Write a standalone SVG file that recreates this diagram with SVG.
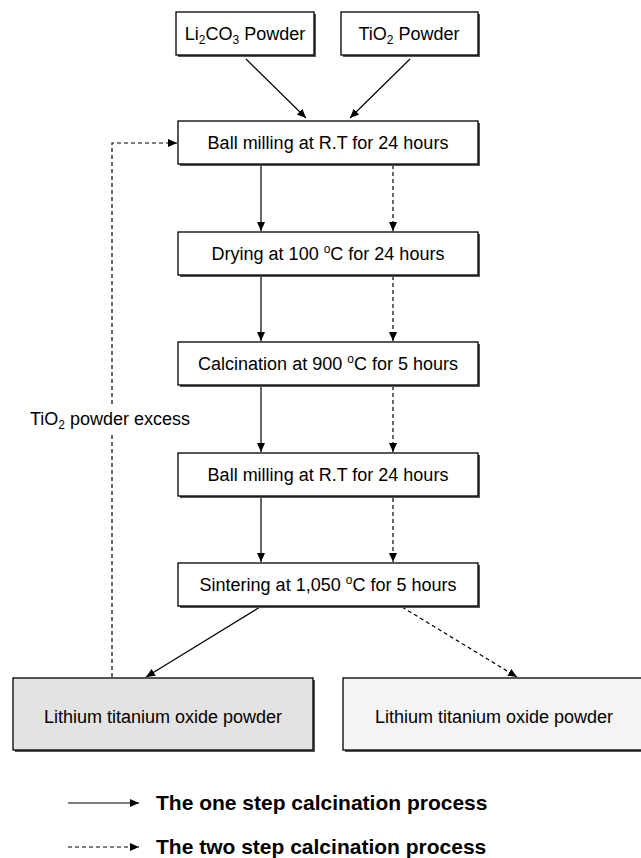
<svg xmlns="http://www.w3.org/2000/svg" width="641" height="858" viewBox="0 0 641 858">
<style>
.box{fill:#fff;stroke:#000;stroke-width:1.3}
.sh{fill:#555;stroke:none}
.t{font-family:"Liberation Sans",Arial,sans-serif;font-size:18px;fill:#000;text-anchor:middle}
.lg{font-family:"Liberation Sans",Arial,sans-serif;font-size:21px;font-weight:bold;fill:#000}
.s{font-size:12px}
.c{stroke:#000;stroke-width:1.2;fill:none}
.d{stroke-dasharray:4 3}
</style>
<defs>
<marker id="ah" markerWidth="10" markerHeight="10" refX="9" refY="5" orient="auto" markerUnits="userSpaceOnUse">
<path d="M0,1 L9,5 L0,9 Z" fill="#000"/>
</marker>
</defs>
<rect width="641" height="858" fill="#fff"/>
<g id="connectors">
<line class="c" x1="246" y1="59" x2="306" y2="118" marker-end="url(#ah)"/>
<line class="c" x1="410" y1="59" x2="350" y2="118" marker-end="url(#ah)"/>
<line class="c" x1="261" y1="165" x2="261" y2="231" marker-end="url(#ah)"/>
<line class="c d" x1="393" y1="165" x2="393" y2="231" marker-end="url(#ah)"/>
<line class="c" x1="261" y1="276" x2="261" y2="341" marker-end="url(#ah)"/>
<line class="c d" x1="393" y1="276" x2="393" y2="341" marker-end="url(#ah)"/>
<line class="c" x1="261" y1="386" x2="261" y2="452" marker-end="url(#ah)"/>
<line class="c d" x1="393" y1="386" x2="393" y2="452" marker-end="url(#ah)"/>
<line class="c" x1="261" y1="498" x2="261" y2="562" marker-end="url(#ah)"/>
<line class="c d" x1="393" y1="498" x2="393" y2="562" marker-end="url(#ah)"/>
<line class="c" x1="260" y1="607" x2="146" y2="677" marker-end="url(#ah)"/>
<line class="c d" x1="402" y1="607" x2="517" y2="677" marker-end="url(#ah)"/>
<polyline class="c d" points="112,677 112,143 177,143" marker-end="url(#ah)"/>
</g>
<g id="label-excess">
<rect x="24" y="404" width="172" height="28" fill="#fff"/>
<text class="t" x="110" y="425">TiO<tspan class="s" dy="4">2</tspan><tspan dy="-4"> powder excess</tspan></text>
</g>
<g id="n-li2co3">
<rect class="sh" x="178" y="14" width="138" height="43"/>
<rect class="box" x="176" y="12" width="138" height="43"/>
<text class="t" x="245" y="40">Li<tspan class="s" dy="4">2</tspan><tspan dy="-4">CO</tspan><tspan class="s" dy="4">3</tspan><tspan dy="-4"> Powder</tspan></text>
</g>
<g id="n-tio2">
<rect class="sh" x="343" y="14" width="137" height="43"/>
<rect class="box" x="341" y="12" width="137" height="43"/>
<text class="t" x="409" y="40">TiO<tspan class="s" dy="4">2</tspan><tspan dy="-4"> Powder</tspan></text>
</g>
<g id="n-ball1">
<rect class="sh" x="180" y="123" width="300" height="43"/>
<rect class="box" x="178" y="121" width="300" height="43"/>
<text class="t" x="328" y="149">Ball milling at R.T for 24 hours</text>
</g>
<g id="n-dry">
<rect class="sh" x="180" y="234" width="300" height="43"/>
<rect class="box" x="178" y="232" width="300" height="43"/>
<text class="t" x="328" y="260">Drying at 100 <tspan class="s" dy="-7">o</tspan><tspan dy="7">C for 24 hours</tspan></text>
</g>
<g id="n-calc">
<rect class="sh" x="180" y="344" width="300" height="43"/>
<rect class="box" x="178" y="342" width="300" height="43"/>
<text class="t" x="328" y="370">Calcination at 900 <tspan class="s" dy="-7">o</tspan><tspan dy="7">C for 5 hours</tspan></text>
</g>
<g id="n-ball2">
<rect class="sh" x="180" y="455" width="300" height="43"/>
<rect class="box" x="178" y="453" width="300" height="43"/>
<text class="t" x="328" y="481">Ball milling at R.T for 24 hours</text>
</g>
<g id="n-sinter">
<rect class="sh" x="180" y="565" width="300" height="43"/>
<rect class="box" x="178" y="563" width="300" height="43"/>
<text class="t" x="328" y="591">Sintering at 1,050 <tspan class="s" dy="-7">o</tspan><tspan dy="7">C for 5 hours</tspan></text>
</g>
<g id="n-lto1">
<rect class="sh" x="15" y="680" width="300" height="72"/>
<rect class="box" x="13" y="678" width="300" height="72" style="fill:#e3e3e3"/>
<text class="t" x="163" y="723">Lithium titanium oxide powder</text>
</g>
<g id="n-lto2">
<rect class="sh" x="345" y="680" width="300" height="72"/>
<rect class="box" x="343" y="678" width="305" height="72" style="fill:#f4f4f4"/>
<text class="t" x="494" y="723">Lithium titanium oxide powder</text>
</g>
<g id="legend">
<line class="c" x1="68" y1="803" x2="139" y2="803" marker-end="url(#ah)"/>
<text class="lg" x="156" y="810">The one step calcination process</text>
<line class="c d" x1="68" y1="847" x2="139" y2="847" marker-end="url(#ah)"/>
<text class="lg" x="156" y="854">The two step calcination process</text>
</g>
</svg>
